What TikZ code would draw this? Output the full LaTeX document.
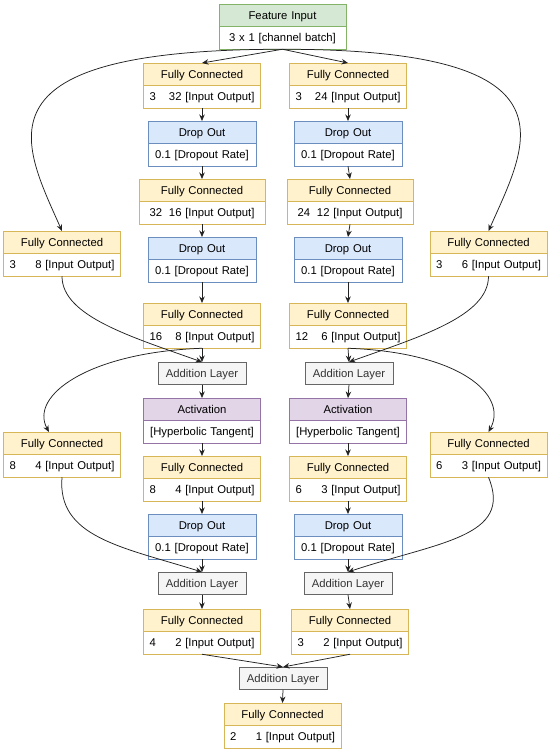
\documentclass[tikz,border=0pt]{standalone}
\usepackage{fontspec}
\setmainfont{Liberation Sans}
\usetikzlibrary{shapes.multipart,arrows.meta}
\definecolor{fcfill}{HTML}{FFF2CC}
\definecolor{fcline}{HTML}{D6B656}
\definecolor{dropfill}{HTML}{DAE8FC}
\definecolor{dropline}{HTML}{6C8EBF}
\definecolor{infill}{HTML}{D5E8D4}
\definecolor{inline}{HTML}{82B366}
\definecolor{actfill}{HTML}{E1D5E7}
\definecolor{actline}{HTML}{9673A6}
\definecolor{addfill}{HTML}{F5F5F5}
\definecolor{addline}{HTML}{666666}
\definecolor{addtext}{HTML}{333333}
\definecolor{linkcol}{HTML}{222222}
\newcommand{\vstrut}{\rule[-2.7pt]{0pt}{13.5pt}}
\newcommand{\io}[2]{\raggedright\mbox{\rlap{#1}\makebox[32pt][r]{#2} [Input Output]}}
\begin{document}
\begin{tikzpicture}[x=1pt,y=-1pt,
  font=\fontsize{11.3}{13.5}\selectfont\vstrut,
  layer/.style={rectangle split, rectangle split parts=2, draw, line width=0.75pt,
    inner xsep=6pt, inner ysep=4pt, text width=#1, align=center, anchor=north},
  fcbox/.style={layer=#1, draw=fcline, rectangle split part fill={fcfill,white}},
  fcbox/.default=105pt,
  dropbox/.style={layer=96pt, draw=dropline, rectangle split part fill={dropfill,white}},
  actbox/.style={layer=105pt, draw=actline, rectangle split part fill={actfill,white}},
  inbox/.style={layer=115pt, draw=inline, rectangle split part fill={infill,white}},
  addbox/.style={draw=addline, fill=addfill, text=addtext, line width=0.75pt,
    minimum width=88pt, minimum height=22pt, inner sep=0pt, anchor=north},
  link/.style={draw=linkcol, line width=0.75pt, -{Stealth[length=6.5pt,width=5.5pt]}}]
\path[use as bounding box, fill=white] (0,0) rectangle (550,750);

\node[inbox] (feat) at (282.5,4) {Feature Input\nodepart{two}\raggedright\mbox{3 x 1 [channel batch]}};

\node[fcbox] (fc1l) at (202,63) {Fully Connected\nodepart{two}\io{3}{32}};
\node[fcbox] (fc1r) at (348,63) {Fully Connected\nodepart{two}\io{3}{24}};
\node[dropbox] (do1l) at (202,121) {Drop Out\nodepart{two}0.1 [Dropout Rate]};
\node[dropbox] (do1r) at (348,121) {Drop Out\nodepart{two}0.1 [Dropout Rate]};
\node[fcbox=114pt] (fc2l) at (202,179) {Fully Connected\nodepart{two}\io{32}{16}};
\node[fcbox=114pt] (fc2r) at (350,179) {Fully Connected\nodepart{two}\io{24}{12}};
\node[dropbox] (do2l) at (202,237) {Drop Out\nodepart{two}0.1 [Dropout Rate]};
\node[dropbox] (do2r) at (348,237) {Drop Out\nodepart{two}0.1 [Dropout Rate]};
\node[fcbox] (fc3l) at (202,303) {Fully Connected\nodepart{two}\io{16}{8}};
\node[fcbox] (fc3r) at (348,303) {Fully Connected\nodepart{two}\io{12}{6}};
\node[fcbox] (side1l) at (62,231) {Fully Connected\nodepart{two}\io{3}{8}};
\node[fcbox] (side1r) at (488.5,231) {Fully Connected\nodepart{two}\io{3}{6}};

\node[addbox] (add1l) at (202,362) {Addition Layer};
\node[addbox] (add1r) at (349,362) {Addition Layer};
\node[actbox] (actl) at (202,398) {Activation\nodepart{two}\raggedright\mbox{[Hyperbolic Tangent]}};
\node[actbox] (actr) at (348,398) {Activation\nodepart{two}\raggedright\mbox{[Hyperbolic Tangent]}};
\node[fcbox] (fc4l) at (202,456) {Fully Connected\nodepart{two}\io{8}{4}};
\node[fcbox] (fc4r) at (348,456) {Fully Connected\nodepart{two}\io{6}{3}};
\node[dropbox] (do3l) at (202,514) {Drop Out\nodepart{two}0.1 [Dropout Rate]};
\node[dropbox] (do3r) at (348,514) {Drop Out\nodepart{two}0.1 [Dropout Rate]};
\node[fcbox] (side2l) at (62,432) {Fully Connected\nodepart{two}\io{8}{4}};
\node[fcbox] (side2r) at (488.5,432) {Fully Connected\nodepart{two}\io{6}{3}};

\node[addbox] (add2l) at (202,572) {Addition Layer};
\node[addbox] (add2r) at (348,572) {Addition Layer};
\node[fcbox] (fc5l) at (202,609) {Fully Connected\nodepart{two}\io{4}{2}};
\node[fcbox] (fc5r) at (350,609) {Fully Connected\nodepart{two}\io{3}{2}};
\node[addbox] (add3) at (283,667) {Addition Layer};
\node[fcbox] (fc6) at (282.5,703) {Fully Connected\nodepart{two}\io{2}{1}};

\draw[link] (feat.south) -- (fc1l.north);
\draw[link] (feat.south) -- (fc1r.north);
\draw[link] (feat.south) .. controls +(-312,0) and +(-40,-90) .. (side1l.north);
\draw[link] (feat.south) .. controls +(300,0) and +(40,-90) .. (side1r.north);

\draw[link] (fc1l.south) -- (do1l.north);
\draw[link] (do1l.south) -- (fc2l.north);
\draw[link] (fc2l.south) -- (do2l.north);
\draw[link] (do2l.south) -- (fc3l.north);
\draw[link] (fc1r.south) -- (do1r.north);
\draw[link] (do1r.south) -- (fc2r.north);
\draw[link] (fc2r.south) -- (do2r.north);
\draw[link] (do2r.south) -- (fc3r.north);

\draw[link] (fc3l.south) -- (add1l.north);
\draw[link] (fc3r.south) -- (add1r.north);
\draw[link] (side1l.south) .. controls +(0,40) and +(-70,-25) .. (add1l.north);
\draw[link] (side1r.south) .. controls +(0,40) and +(70,-25) .. (add1r.north);
\draw[link] (fc3l.south) .. controls +(-112,4) and +(-20,-37) .. (side2l.120);
\draw[link] (fc3r.south) .. controls +(112,4) and +(20,-37) .. (side2r.north);

\draw[link] (add1l.south) -- (actl.north);
\draw[link] (actl.south) -- (fc4l.north);
\draw[link] (fc4l.south) -- (do3l.north);
\draw[link] (do3l.south) -- (add2l.north);
\draw[link] (add1r.south) -- (actr.north);
\draw[link] (actr.south) -- (fc4r.north);
\draw[link] (fc4r.south) -- (do3r.north);
\draw[link] (do3r.south) -- (add2r.north);
\draw[link] (side2l.south) .. controls +(-5,60) and +(-80,-25) .. (add2l.north);
\draw[link] (side2r.south) .. controls +(25,60) and +(90,-30) .. (add2r.north);

\draw[link] (add2l.south) -- (fc5l.north);
\draw[link] (add2r.south) -- (fc5r.north);
\draw[link] (fc5l.south) -- (add3.north);
\draw[link] (fc5r.south) -- (add3.north);
\draw[link] (add3.south) -- (fc6.north);
\end{tikzpicture}
\end{document}
